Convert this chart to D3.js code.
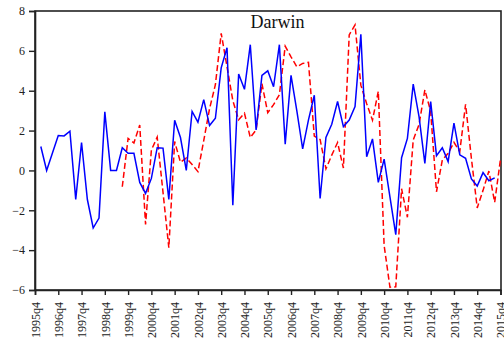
<!DOCTYPE html>
<html>
<head>
<meta charset="utf-8">
<script src="https://cdn.jsdelivr.net/npm/d3@7"></script>
<style>
  body { margin: 0; background: #fff; }
  svg { display: block; }
  .tick text { font-family: "Liberation Serif", "Times New Roman", serif; font-size: 12px; fill: #222; }
</style>
</head>
<body>
<svg id="chart" width="504" height="347"></svg>
<script>
// quarters 1995q4 .. 2015q4
const quarters = [];
for (let yr = 1995; yr <= 2015; yr++) {
  for (let q = 1; q <= 4; q++) {
    if (yr === 1995 && q < 4) continue;
    if (yr === 2015 && q > 4) continue;
    quarters.push(yr + "q" + q);
  }
}

const tickLabels = ["1995q4", "1996q4", "1997q4", "1998q4", "1999q4", "2000q4", "2001q4",
  "2002q4", "2003q4", "2004q4", "2005q4", "2006q4", "2007q4", "2008q4", "2009q4",
  "2010q4", "2011q4", "2012q4", "2013q4", "2014q4", "2015q4"];

const yTicks = [-6, -4, -2, 0, 2, 4, 6, 8];

// blue solid series, starts 1996q1
const blueStart = "1996q1";
const blueValues = [1.2, 0.0, 0.88, 1.75, 1.73, 1.97, -1.45, 1.4, -1.46, -2.89,
  -2.39, 2.94, 0.0, 0.0, 1.14, 0.86, 0.86, -0.6, -1.15, -0.4,
  1.14, 1.12, -1.45, 2.52, 1.65, 0.0, 2.96, 2.42, 3.55, 2.25,
  2.62, 5.15, 6.16, -1.75, 4.84, 4.07, 6.31, 2.03, 4.77, 5.0,
  4.2, 6.31, 1.32, 4.77, 2.99, 1.08, 2.54, 3.77, -1.41, 1.65,
  2.32, 3.46, 2.2, 2.53, 3.2, 6.83, 0.69, 1.58, -0.6, 0.57,
  -1.33, -3.22, 0.64, 1.61, 4.33, 2.7, 0.35, 3.46, 0.74, 1.14,
  0.44, 2.37, 0.78, 0.61, -0.43, -0.78, -0.11, -0.52, -0.37];

// red dashed series, starts 1999q3
const redStart = "1999q3";
const redValues = [-0.82, 1.61, 1.38, 2.28, -2.71, 1.02, 1.67, -1.1, -3.88, 1.45,
  0.41, 0.62, 0.3, -0.06, 1.5, 3.1, 4.3, 6.88, 5.2, 3.5,
  2.54, 2.87, 1.65, 2.03, 4.35, 2.9, 3.3, 3.8, 6.23, 5.7,
  5.2, 5.37, 5.42, 1.72, 1.55, 0.08, 0.77, 1.4, 0.12, 6.8,
  7.3, 4.28, 3.35, 2.52, 3.97, -3.76, -5.86, -5.84, -0.92, -2.35,
  1.53, 2.3, 4.04, 2.96, -1.07, 0.52, 0.86, 1.41, 0.94, 3.32,
  0.6, -1.88, -1.0, -0.03, -1.6, 0.57];

const plotLeft = 35, plotRight = 500.5, plotTop = 11, plotBottom = 290;

const svg = d3.select("#chart");

const x = d3.scaleLinear()
  .domain([0, quarters.length - 1])
  .range([plotLeft, plotRight]);

const y = d3.scaleLinear()
  .domain([-6, 8])
  .range([plotBottom, plotTop]);

function toPoints(start, values) {
  const i0 = quarters.indexOf(start);
  return values.map((v, i) => ({ i: i0 + i, v: v }));
}

const line = d3.line()
  .x(d => x(d.i))
  .y(d => y(d.v));

// frame
svg.append("rect")
  .attr("x", plotLeft)
  .attr("y", plotTop)
  .attr("width", plotRight + 0.5 - plotLeft)
  .attr("height", plotBottom - plotTop)
  .attr("fill", "none")
  .attr("stroke", "#222")
  .attr("stroke-width", 1.6);

// y axis
const yAxis = svg.append("g")
  .attr("transform", "translate(" + plotLeft + ",0)")
  .call(d3.axisLeft(y).tickValues(yTicks).tickSize(6).tickPadding(4).tickFormat(d3.format("d")));
yAxis.select(".domain").attr("stroke", "#222").attr("stroke-width", 1.6);
yAxis.selectAll(".tick line").attr("stroke", "#222").attr("stroke-width", 1.4);

// x axis
const xAxis = svg.append("g")
  .attr("transform", "translate(0," + plotBottom + ")")
  .call(d3.axisBottom(x)
    .tickValues(tickLabels.map(t => quarters.indexOf(t)))
    .tickFormat(d => quarters[d])
    .tickSize(5));
xAxis.select(".domain").attr("stroke", "#222").attr("stroke-width", 1.6);
xAxis.selectAll(".tick line").attr("stroke", "#222").attr("stroke-width", 1.4);
xAxis.selectAll(".tick text")
  .attr("transform", "rotate(-90)")
  .attr("text-anchor", "end")
  .attr("x", -12)
  .attr("y", 0)
  .attr("dy", "0.35em");

// series
svg.append("path")
  .datum(toPoints(redStart, redValues))
  .attr("d", line)
  .attr("fill", "none")
  .attr("stroke", "#ff0000")
  .attr("stroke-width", 1.5)
  .attr("stroke-dasharray", "6,3");

svg.append("path")
  .datum(toPoints(blueStart, blueValues))
  .attr("d", line)
  .attr("fill", "none")
  .attr("stroke", "#0000ff")
  .attr("stroke-width", 1.5);

// title
svg.append("text")
  .attr("x", 277.5)
  .attr("y", 28)
  .attr("text-anchor", "middle")
  .style("font-family", "'Liberation Serif', 'Times New Roman', serif")
  .style("font-size", "18px")
  .attr("fill", "#111")
  .text("Darwin");
</script>
</body>
</html>
